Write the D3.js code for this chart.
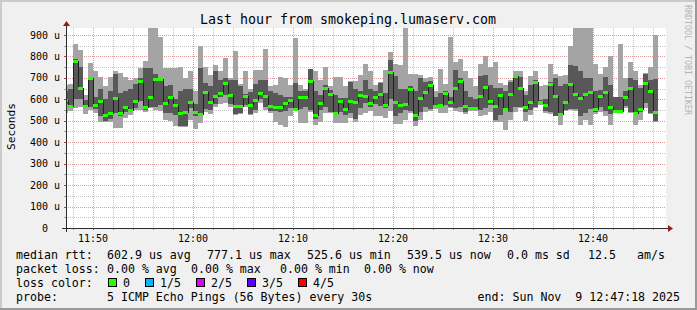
<!DOCTYPE html>
<html><head><meta charset="utf-8">
<script src="https://cdn.jsdelivr.net/npm/d3@7/dist/d3.min.js"></script>
<style>html,body{margin:0;padding:0;background:#f0f0f0;overflow:hidden}svg{display:block}</style>
</head><body><svg id="c" width="697" height="310"></svg>
<script>
// ---- data (microseconds), one bucket every 30 s, first bucket ends 11:47:30 UTC ----
const title = "Last hour from smokeping.lumaserv.com";
const minRtt = [536,545,560,565,530,550,535,495,495,495,465,465,515,525,550,550,540,560,550,545,
505,500,475,470,470,505,460,490,540,530,565,580,585,565,525,530,565,525,535,585,
550,535,495,480,472,520,545,490,490,540,480,495,535,535,490,490,490,515,495,525,
535,545,520,520,515,545,483,485,505,535,477,505,540,545,555,535,535,560,545,540,
530,545,545,520,525,540,495,495,457,505,540,560,500,525,560,575,535,530,520,480,
545,550,545,480,505,480,530,540,520,480,540,535,560,535,480,505,560,530,495];
const ping2 = [580,560,600,600,560,565,555,520,500,510,535,520,540,540,560,590,550,565,565,575,
535,535,525,475,475,560,520,520,555,550,580,610,620,580,530,535,575,530,550,600,
565,545,545,540,545,560,550,555,565,550,510,550,565,540,530,540,525,535,510,560,
585,565,580,570,560,600,520,535,550,545,500,540,565,555,565,565,575,565,560,565,
540,550,555,550,560,575,505,525,550,540,565,565,540,550,565,580,545,540,522,520,
550,555,555,520,535,555,540,565,545,530,542,540,570,540,530,540,585,535,498];
const medianRtt = [597,570,777.1,655,570,700,573,592,525.6,537,608,537,562,550,592,686,562,609,693,693,
581,609,573,535,542,586,540,530,636,586,617,630,675,620,570,570,615,575,598,630,
617,570,565,565,584,595,555,612,609,687,527,581,654,627,536,590,553,592,586,620,
617,584,612,625,573,727,587,573,578,650,527,608,633,667,570,573,628,586,651,686,
570,560,558,617,656,594,570,620,555,623,710,654,566,587,682,586,573,671,617,531,
589,671,623,605,623,635,553,614,633,566,545,545,609,651,535,555,675,640,539.5];
const ping4 = [640,650,790,750,595,705,610,650,600,640,720,630,640,650,670,700,745,745,720,700,
660,667,600,640,650,648,580,745,675,660,730,690,700,690,690,660,625,635,670,690,
690,640,630,620,610,610,675,640,640,740,640,620,665,645,620,605,605,680,650,640,
690,650,640,675,630,783,710,650,650,660,640,700,680,685,610,630,640,610,737,700,
640,610,600,710,715,665,655,655,640,682,712,705,620,665,690,595,600,680,700,660,
670,760,755,732,700,700,640,645,705,665,610,610,640,700,690,655,720,690,695];
const maxRtt = [667,670,858,830,620,770,730,705,660,705,730,725,705,690,700,745,780,950,950,892,
748,745,748,752,700,733,640,850,750,715,760,730,794,700,825,670,730,650,737,735,
835,660,665,705,700,665,885,665,650,742,730,690,752,660,705,705,660,685,685,715,
763,730,665,680,735,822,763,760,950,720,720,715,700,705,640,740,670,890,775,790,
730,700,660,763,800,752,772,675,665,690,732,732,640,710,730,662,667,763,720,710,
712,850,950,950,950,950,763,720,752,800,612,860,700,775,730,667,722,752,900];
const yTicks = [0,100,200,300,400,500,600,700,800,900];
const yTickLabels = ["0","100 u","200 u","300 u","400 u","500 u","600 u","700 u","800 u","900 u"];
const lossColors = ["#26ff00","#00b8ff","#dd00ff","#5e00ff","#ff0000"];
const lossLabels = ["0","1/5","2/5","3/5","4/5"];
const legendRtt = ["median rtt:","602.9 us avg","777.1 us max","525.6 us min","539.5 us now","0.0 ms sd","12.5","am/s"];
const legendLoss = ["packet loss:","0.00 % avg","0.00 % max","0.00 % min","0.00 % now"];
const probeText = ["probe:","5 ICMP Echo Pings (56 Bytes) every 30s","end: Sun Nov  9 12:47:18 2025"];

// ---- layout ----
const W = 697, H = 310;
const X0 = 66, X1 = 666, Y0 = 228, Y1 = 28;
const tStart = new Date(Date.UTC(2025,10,9,11,47,18));
const tEnd = new Date(Date.UTC(2025,10,9,12,47,18));
const firstEnd = Date.UTC(2025,10,9,11,47,30), stepMs = 30000;
const buckets = medianRtt.map((m,i)=>({
  t1: new Date(firstEnd + i*stepMs), t0: new Date(firstEnd + i*stepMs - stepMs),
  min: minRtt[i], p2: ping2[i], med: m, p4: ping4[i], max: maxRtt[i]}));

const x = d3.scaleUtc().domain([tStart, tEnd]).range([X0, X1]);
const y = d3.scaleLinear().domain([0, 932.6]).range([Y0, Y1]);
const bx0 = d => Math.max(X0, x(d.t0)), bx1 = d => x(d.t1);

const mono = "'DejaVu Sans Mono', 'Liberation Mono', monospace";
const svg = d3.select("#c");
svg.append("rect").attr("width",W).attr("height",H).attr("fill","#f0f0f0");
svg.append("path").attr("d",`M0,0H${W}V2H2V${H}H0Z`).attr("fill","#cbcbcb");
svg.append("path").attr("d",`M${W},0V${H}H0V${H-2}H${W-2}V0Z`).attr("fill","#999999");
svg.append("rect").attr("x",X0).attr("y",Y1).attr("width",X1-X0).attr("height",Y0-Y1).attr("fill","#fff");

svg.append("defs").append("clipPath").attr("id","plot").append("rect")
  .attr("x",X0).attr("y",Y1).attr("width",X1-X0).attr("height",Y0-Y1);

// ---- grid ----
const grid = svg.append("g").attr("shape-rendering","crispEdges").attr("stroke-dasharray","1,1");
const minorY = d3.range(50, 932, 100);
grid.selectAll(".hm").data(minorY).join("line")
  .attr("x1",X0).attr("x2",X1).attr("y1",d=>Math.round(y(d))+0.5).attr("y2",d=>Math.round(y(d))+0.5)
  .attr("stroke","#c4c4c4");
const minorX = x.ticks(d3.utcMinute.every(2)).filter(t=>t.getUTCMinutes()%10!==0);
const majorX = x.ticks(d3.utcMinute.every(10));
grid.selectAll(".vm").data(minorX).join("line")
  .attr("x1",d=>Math.round(x(d))+0.5).attr("x2",d=>Math.round(x(d))+0.5).attr("y1",Y1).attr("y2",Y0)
  .attr("stroke","#c4c4c4");
grid.selectAll(".hM").data(yTicks.slice(1)).join("line")
  .attr("x1",X0).attr("x2",X1).attr("y1",d=>Math.round(y(d))+0.5).attr("y2",d=>Math.round(y(d))+0.5)
  .attr("stroke","#dc9a9a");
grid.selectAll(".vM").data(majorX).join("line")
  .attr("x1",d=>Math.round(x(d))+0.5).attr("x2",d=>Math.round(x(d))+0.5).attr("y1",Y1).attr("y2",Y0)
  .attr("stroke","#dc9a9a");

// ---- smoke ----
const data = svg.append("g").attr("clip-path","url(#plot)").attr("shape-rendering","crispEdges");
data.selectAll(".l").data(buckets).join("rect")
  .attr("x",bx0).attr("width",d=>bx1(d)-bx0(d))
  .attr("y",d=>y(d.max)).attr("height",d=>y(d.min)-y(d.max)).attr("fill","#a4a4a4");
data.selectAll(".d").data(buckets).join("rect")
  .attr("x",bx0).attr("width",d=>bx1(d)-bx0(d))
  .attr("y",d=>y(d.p4)).attr("height",d=>y(d.p2)-y(d.p4)).attr("fill","#585858");

// median step line
const pts = buckets.flatMap(d=>[[bx0(d), y(d.med)],[bx1(d), y(d.med)]]);
data.append("path").attr("d", d3.line()(pts.map(p=>[p[0], Math.round(p[1])+0.5])))
  .attr("fill","none").attr("stroke","#202020").attr("stroke-width",1);
// loss-coloured median markers
data.selectAll(".m").data(buckets).join("rect")
  .attr("x",bx0).attr("width",d=>bx1(d)-bx0(d))
  .attr("y",d=>Math.round(y(d.med))-1).attr("height",3).attr("fill",lossColors[0]);

// ---- axes ----
const ax = svg.append("g").attr("shape-rendering","crispEdges");
ax.selectAll(".yt").data(yTicks).join("line")
  .attr("x1",X0-2).attr("x2",X0).attr("y1",d=>Math.round(y(d))+0.5).attr("y2",d=>Math.round(y(d))+0.5)
  .attr("stroke","#a05050");
ax.selectAll(".ytm").data(minorY).join("line")
  .attr("x1",X0-2).attr("x2",X0).attr("y1",d=>Math.round(y(d))+0.5).attr("y2",d=>Math.round(y(d))+0.5)
  .attr("stroke","#a0a0a0");
ax.selectAll(".xt").data(minorX.concat(majorX)).join("line")
  .attr("x1",d=>Math.round(x(d))+0.5).attr("x2",d=>Math.round(x(d))+0.5).attr("y1",Y0).attr("y2",Y0+2)
  .attr("stroke",d=>d.getUTCMinutes()%10===0?"#a05050":"#a0a0a0");
ax.append("line").attr("x1",X0-4).attr("x2",X1+4).attr("y1",Y0+0.5).attr("y2",Y0+0.5).attr("stroke","#2c2c2c");
ax.append("line").attr("x1",X0+0.5).attr("x2",X0+0.5).attr("y1",Y0+4).attr("y2",Y1-4).attr("stroke","#2c2c2c");
svg.append("path").attr("d",`M${X1+2},${Y0-3}L${X1+2},${Y0+4}L${X1+7},${Y0+0.5}Z`).attr("fill","#9a1a1a");
svg.append("path").attr("d",`M${X0-3},${Y1-2}L${X0+4},${Y1-2}L${X0+0.5},${Y1-7}Z`).attr("fill","#9a1a1a");

// tick labels
svg.selectAll(".yl").data(yTicks).join("text")
  .attr("x",(d,i)=> i===0 ? 48 : 60).attr("y",d=>y(d)+3.6)
  .attr("text-anchor","end").attr("font-family",mono).attr("font-size","10px").attr("fill","#000")
  .text((d,i)=>yTickLabels[i]);
svg.selectAll(".xl").data(majorX).join("text")
  .attr("x",d=>x(d)).attr("y",241.5).attr("text-anchor","middle")
  .attr("font-family",mono).attr("font-size","10px").attr("fill","#000")
  .text(d3.utcFormat("%H:%M"));

// title, unit label, watermark
svg.append("text").attr("x",348).attr("y",23.5).attr("text-anchor","middle")
  .attr("font-family",mono).attr("font-size","13.3px").attr("fill","#000").text(title);
svg.append("text").attr("transform","translate(15,126.5) rotate(-90)").attr("text-anchor","middle")
  .attr("font-family",mono).attr("font-size","11.2px").attr("fill","#000").text("Seconds");
svg.append("text").attr("transform","translate(685,60) rotate(90)").attr("text-anchor","middle")
  .attr("font-family",mono).attr("font-size","8.3px").attr("fill","#b4b4b4").text("RRDTOOL / TOBI OETIKER");

// ---- legend ----
const lg = svg.append("g").attr("font-family",mono).attr("font-size","11.6px").attr("fill","#000")
  .style("white-space","pre");
const rttX = [16,107,207,307,407,507,588,637];
lg.selectAll(".r1").data(legendRtt).join("text").attr("x",(d,i)=>rttX[i]).attr("y",258.5).text(d=>d);
const lossX = [16,107,191,280,364];
lg.selectAll(".r2").data(legendLoss).join("text").attr("x",(d,i)=>lossX[i]).attr("y",272.5).text(d=>d);
lg.append("text").attr("x",16).attr("y",287).text("loss color:");
const boxX = [108,145,196,247,298];
lg.selectAll(".bx").data(lossColors).join("rect")
  .attr("x",(d,i)=>boxX[i]+0.5).attr("y",278.5).attr("width",8).attr("height",8)
  .attr("fill",d=>d).attr("stroke","#000").attr("shape-rendering","crispEdges");
lg.selectAll(".bl").data(lossLabels).join("text").attr("x",(d,i)=>boxX[i]+15).attr("y",287).text(d=>d);
lg.append("text").attr("x",16).attr("y",301).text(probeText[0]);
lg.append("text").attr("x",107).attr("y",301).text(probeText[1]);
lg.append("text").attr("x",680).attr("y",301).attr("text-anchor","end").attr("xml:space","preserve").text(probeText[2]);
</script></body></html>
